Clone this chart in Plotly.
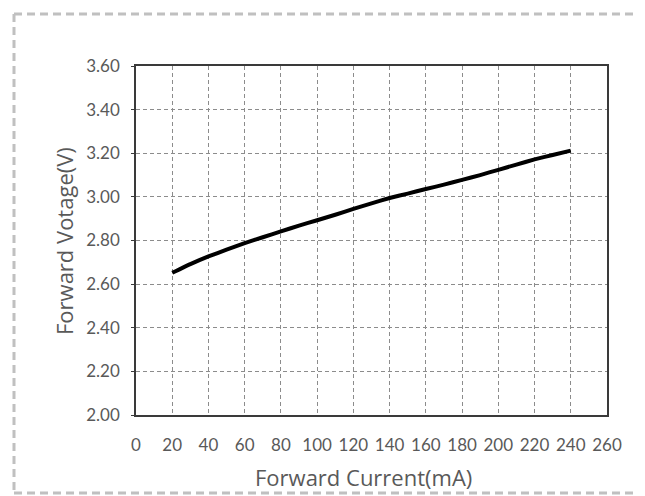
import plotly.graph_objects as go

current_ma = [20, 30, 40, 50, 60, 70, 80, 90, 100, 110, 120, 130, 140, 150,
              160, 170, 180, 190, 200, 210, 220, 230, 240]
voltage_v = [2.652, 2.692, 2.727, 2.758, 2.788, 2.815, 2.842, 2.868, 2.893, 2.918,
             2.945, 2.97, 2.995, 3.015, 3.036, 3.056, 3.078, 3.10, 3.124, 3.148,
             3.172, 3.192, 3.212]

x_ticks = list(range(0, 261, 20))
y_ticks = [2.00, 2.20, 2.40, 2.60, 2.80, 3.00, 3.20, 3.40, 3.60]
y_tick_labels = [f"{v:.2f}" for v in y_ticks]

x_title = "Forward Current(mA)"
y_title = "Forward Votage(V)"

# page body has an 8px default margin; the figure is sized to fit the window
OFF = 8
W, H = 645 - OFF, 496 - OFF
ML, MR, MT, MB = 136 - OFF, 38, 66 - OFF, 81
pw, ph = W - ML - MR, H - MT - MB

def px_x(p):
    return (p - OFF - ML) / pw

def px_y(p):
    return (H - MB - (p - OFF)) / ph

fig = go.Figure()
fig.add_trace(go.Scatter(
    x=current_ma, y=voltage_v, mode="lines",
    line=dict(color="black", width=4, shape="spline", smoothing=0.3),
    showlegend=False, hoverinfo="x+y",
))

tick_font = dict(family="Lato, 'Liberation Sans Narrow', sans-serif", size=17, color="#595959")
title_font = dict(family="'Open Sans', 'Noto Sans', sans-serif", size=22, color="#595959")

border = dict(color="#c0c0c0", width=3, dash="8px,5px")
bx0, bx1, by_top, by_bot = px_x(14), px_x(645), px_y(14), px_y(493)

fig.update_layout(
    width=W, height=H,
    margin=dict(l=ML, r=MR, t=MT, b=MB),
    paper_bgcolor="white", plot_bgcolor="white",
    xaxis=dict(
        range=[0, 260], tickmode="array", tickvals=x_ticks,
        ticktext=[str(v) for v in x_ticks],
        showgrid=True, gridcolor="#8c8c8c", gridwidth=1, griddash="4px,3px",
        zeroline=False, showline=True, linecolor="#3a3a3a", linewidth=1.5,
        mirror=True, ticks="", tickfont=tick_font, ticklabelstandoff=14,
        fixedrange=True,
    ),
    yaxis=dict(
        range=[2.0, 3.6], tickmode="array", tickvals=y_ticks, ticktext=y_tick_labels,
        showgrid=True, gridcolor="#8c8c8c", gridwidth=1, griddash="4px,3px",
        zeroline=False, showline=True, linecolor="#3a3a3a", linewidth=1.5,
        mirror=True, ticks="outside", ticklen=3, tickcolor="#3a3a3a",
        tickfont=tick_font, ticklabelstandoff=8, fixedrange=True,
    ),
    annotations=[
        dict(text=x_title, xref="paper", yref="paper", x=px_x(363), y=px_y(477),
             xanchor="center", yanchor="middle", showarrow=False, font=title_font),
        dict(text=y_title, xref="paper", yref="paper", x=px_x(64), y=px_y(241),
             xanchor="center", yanchor="middle", showarrow=False, textangle=-90,
             font=title_font),
    ],
    shapes=[
        dict(type="line", xref="paper", yref="paper", x0=bx0, x1=bx1,
             y0=by_top, y1=by_top, line=border, layer="below"),
        dict(type="line", xref="paper", yref="paper", x0=bx0, x1=bx0,
             y0=by_top, y1=by_bot, line=border, layer="below"),
        dict(type="path", xref="paper", yref="paper",
             path=f"M {bx0},{by_bot} L {px_x(644)},{by_bot}",
             line=border, layer="below"),
    ],
)

fig.write_html("out.html")
